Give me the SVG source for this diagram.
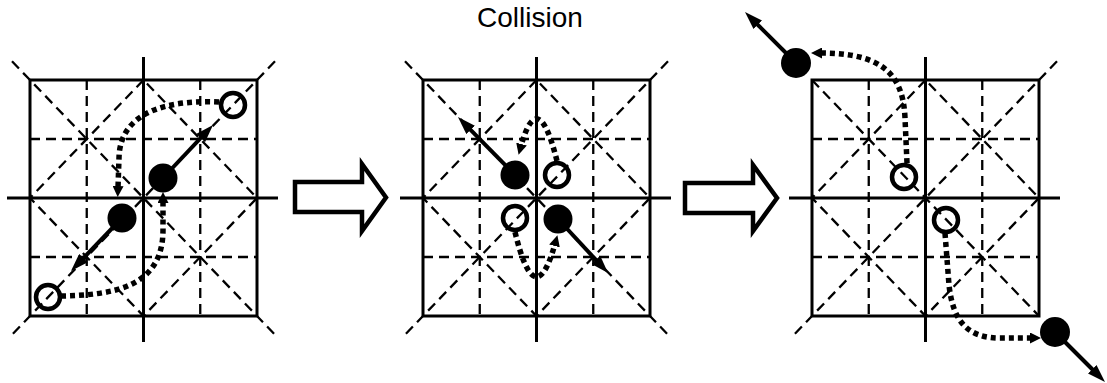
<svg xmlns="http://www.w3.org/2000/svg" xmlns:xlink="http://www.w3.org/1999/xlink" width="1107" height="383" viewBox="0 0 1107 383">
<style>
.sq{fill:none;stroke:#000;stroke-width:3}
.ax{stroke:#000;stroke-width:3;fill:none}
.da{stroke:#000;stroke-width:2.3;stroke-dasharray:10 6;fill:none}
.full{fill:#000}
.open{fill:none;stroke:#000;stroke-width:4.5}
.vel{stroke:#000;stroke-width:4;fill:none;marker-end:url(#ah)}
.dot{stroke:#000;stroke-width:5.5;stroke-dasharray:5 4;fill:none;marker-end:url(#dh)}
.blk{fill:#fff;stroke:#000;stroke-width:4.5;stroke-linejoin:miter}
.title{font-family:"Liberation Sans",Arial,sans-serif;font-size:28px;fill:#000}
</style>
<defs>
<marker id="ah" viewBox="0 0 18 12" markerWidth="18" markerHeight="12" refX="6" refY="6" orient="auto" markerUnits="userSpaceOnUse"><path d="M0,0 L18,6 L0,12 z" fill="#000"/></marker>
<marker id="dh" viewBox="0 0 11 11" markerWidth="11" markerHeight="11" refX="2" refY="5.5" orient="auto" markerUnits="userSpaceOnUse"><path d="M0,0 L11,5.5 L0,11 z" fill="#000"/></marker>
<g id="grid">
<line class="da" x1="56.75" y1="0" x2="56.75" y2="236"/>
<line class="da" x1="170.25" y1="0" x2="170.25" y2="236"/>
<line class="da" x1="0" y1="59" x2="227" y2="59"/>
<line class="da" x1="0" y1="177" x2="227" y2="177"/>
<path class="da" d="M113.5,0 L0,118 L113.5,236 L227,118 Z"/>
<line class="ax" x1="-23" y1="118" x2="248" y2="118"/>
<line class="ax" x1="113.5" y1="-23" x2="113.5" y2="262"/>
<rect class="sq" x="0" y="0" width="227" height="236"/>
</g>
</defs>
<text class="title" x="530" y="27" text-anchor="middle">Collision</text>
<g id="panel1" transform="translate(30,80)">
<use xlink:href="#grid"/>
<line class="da" x1="-18" y1="-18.7" x2="245" y2="254.7"/>
<line class="da" x1="245" y1="-18.7" x2="-18" y2="254.7"/>
</g>
<g id="panel2" transform="translate(423,80)">
<use xlink:href="#grid"/>
<line class="da" x1="-18" y1="-18.7" x2="245" y2="254.7"/>
<line class="da" x1="245" y1="-18.7" x2="-18" y2="254.7"/>
</g>
<g id="panel3" transform="translate(812,80)">
<use xlink:href="#grid"/>
<line class="da" x1="0" y1="0" x2="227" y2="236"/>
<line class="da" x1="245" y1="-18.7" x2="-18" y2="254.7"/>
</g>
<g id="step-arrow-1"><path class="blk" d="M295,182 L362,182 L362,164 L386,197.5 L362,231 L362,212 L295,212 Z"/></g>
<g id="step-arrow-2"><path class="blk" d="M685,183 L753,183 L753,165 L777,198 L753,231 L753,213 L685,213 Z"/></g>
<g id="connectors">
<line class="vel" x1="163" y1="178" x2="204.8" y2="133.7"/>
<line class="vel" x1="122" y1="218" x2="79.3" y2="262.4"/>
<path class="dot" d="M219,102 C175,100 120,108 119,158 L118,188"/>
<path class="dot" d="M61,296 C112,295 163,288 163,230 L163,201"/>
<line class="vel" x1="515" y1="175" x2="466.4" y2="125.6"/>
<line class="vel" x1="558" y1="219" x2="599.9" y2="264.2"/>
<path class="dot" d="M557,161 Q538,85 521,146"/>
<path class="dot" d="M515,232 Q535,315 555,244"/>
<line class="vel" x1="796" y1="63" x2="753.5" y2="20.5"/>
<line class="vel" x1="1055" y1="332" x2="1096.5" y2="373.5"/>
<path class="dot" d="M907,163 L905,118 C903,72 880,53 820,53"/>
<path class="dot" d="M945,233 L949,285 C953,322 968,338 1000,338 L1032,338"/>
</g>
<g id="p1-open-a"><circle class="open" cx="233" cy="105" r="12"/></g>
<g id="p1-full-a"><circle class="full" cx="163" cy="178" r="14.5"/></g>
<g id="p1-full-b"><circle class="full" cx="122" cy="218" r="14.5"/></g>
<g id="p1-open-b"><circle class="open" cx="48" cy="297" r="12"/></g>
<g id="p2-full-a"><circle class="full" cx="515" cy="175" r="14.5"/></g>
<g id="p2-open-a"><circle class="open" cx="557" cy="175" r="12"/></g>
<g id="p2-open-b"><circle class="open" cx="515" cy="218" r="12"/></g>
<g id="p2-full-b"><circle class="full" cx="558" cy="219" r="14.5"/></g>
<g id="p3-full-a"><circle class="full" cx="796" cy="63" r="15"/></g>
<g id="p3-open-a"><circle class="open" cx="904" cy="177" r="12"/></g>
<g id="p3-open-b"><circle class="open" cx="946" cy="220" r="12"/></g>
<g id="p3-full-b"><circle class="full" cx="1055" cy="332" r="15"/></g>
</svg>
